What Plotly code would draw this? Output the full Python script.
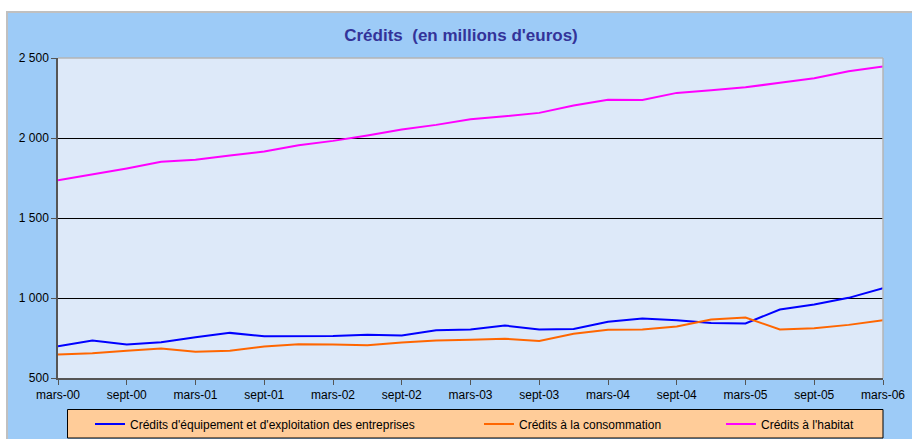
import plotly.graph_objects as go

# ---- data ----
x_labels = [
    "mars-00", "juin-00", "sept-00", "déc-00",
    "mars-01", "juin-01", "sept-01", "déc-01",
    "mars-02", "juin-02", "sept-02", "déc-02",
    "mars-03", "juin-03", "sept-03", "déc-03",
    "mars-04", "juin-04", "sept-04", "déc-04",
    "mars-05", "juin-05", "sept-05", "déc-05",
    "mars-06",
]
equipement = [699, 734, 709, 724, 755, 782, 761, 761, 762, 770, 766, 799, 803,
              828, 803, 807, 851, 872, 861, 843, 841, 928, 959, 1001, 1061]
consommation = [647, 655, 670, 684, 664, 670, 697, 711, 709, 705, 722, 734, 739,
                745, 732, 776, 801, 803, 822, 866, 878, 803, 811, 832, 861]
habitat = [1736, 1772, 1810, 1851, 1864, 1891, 1916, 1955, 1982, 2016, 2053, 2082, 2117,
           2136, 2157, 2203, 2239, 2237, 2282, 2299, 2317, 2345, 2374, 2417, 2447]
series_names = [
    "Crédits d'équipement et d'exploitation des entreprises",
    "Crédits à la consommation",
    "Crédits à l'habitat",
]
series_colors = ["#0000FF", "#FF6600", "#FF00FF"]
y_tickvals = [500, 1000, 1500, 2000, 2500]
y_ticktext = ["500", "1 000", "1 500", "2 000", "2 500"]
x_tickvals = x_labels[::2]

# ---- layout geometry (pixels) ----
W, H = 912, 439
L, R, T, B = 58, 883, 58, 378
PW, PH = R - L, B - T


def fx(px):
    return (px - L) / PW


def fy(py):
    return (B - py) / PH


FONT = "Liberation Sans, Arial, sans-serif"

fig = go.Figure()
legend_x = [90, 479, 721]
for i, (vals, name, col) in enumerate(zip([equipement, consommation, habitat],
                                          series_names, series_colors)):
    fig.add_trace(go.Scatter(
        x=x_labels, y=vals, mode="lines", name=name,
        line=dict(color=col, width=2),
        showlegend=True,
        legend="legend" if i == 0 else f"legend{i+1}",
    ))

legend_common = dict(
    orientation="h", bgcolor="rgba(0,0,0,0)", borderwidth=0,
    yanchor="middle", y=fy(424), xanchor="left",
    font=dict(family=FONT, size=12, color="#000000"),
)

shapes = [
    # white strips outside frame
    dict(type="rect", xref="paper", yref="paper", x0=fx(0), x1=fx(W), y0=fy(11), y1=fy(0),
         fillcolor="white", line=dict(width=0), layer="above"),
    dict(type="rect", xref="paper", yref="paper", x0=fx(0), x1=fx(6), y0=fy(H), y1=fy(0),
         fillcolor="white", line=dict(width=0), layer="above"),
    # gray frame lines
    dict(type="line", xref="paper", yref="paper", x0=fx(6), x1=fx(W), y0=fy(12), y1=fy(12),
         line=dict(color="#c0c0c0", width=2), layer="above"),
    dict(type="line", xref="paper", yref="paper", x0=fx(7), x1=fx(7), y0=fy(H), y1=fy(11),
         line=dict(color="#c0c0c0", width=2), layer="above"),
    # plot area top/right border
    dict(type="line", xref="paper", yref="paper", x0=0, x1=1, y0=1, y1=1,
         line=dict(color="#b4b4b4", width=1.5), layer="above"),
    dict(type="line", xref="paper", yref="paper", x0=1, x1=1, y0=0, y1=1,
         line=dict(color="#b4b4b4", width=1.5), layer="above"),
    # legend box
    dict(type="rect", xref="paper", yref="paper", x0=fx(67.5), x1=fx(883), y0=fy(438), y1=fy(409.5),
         fillcolor="#FFCC99", line=dict(color="#000000", width=1), layer="below"),
]

fig.update_layout(
    width=W, height=H, autosize=False,
    showlegend=True,
    margin=dict(l=L, r=W - R, t=T, b=H - B, pad=0, autoexpand=False),
    paper_bgcolor="#9dcbf7",
    plot_bgcolor="#dde9f9",
    font=dict(family=FONT, size=12, color="#000000"),
    title=dict(text="<b>Crédits\u00a0 (en millions d'euros)</b>", x=461 / W, xref="container",
               xanchor="center", y=1 - 35 / H, yref="container", yanchor="middle",
               font=dict(family=FONT, size=17, color="#333399")),
    xaxis=dict(type="category", range=[0, len(x_labels) - 1], automargin=False,
               tickmode="array", tickvals=x_tickvals, ticktext=x_tickvals,
               showgrid=False, showline=True, linecolor="#555555", linewidth=1.5,
               ticks="outside", ticklen=5, tickcolor="#555555", tickwidth=1,
               tickfont=dict(family=FONT, size=12, color="#000000"), tickangle=0,
               zeroline=False),
    yaxis=dict(range=[500, 2500], tickmode="array", tickvals=y_tickvals, ticktext=y_ticktext,
               automargin=False,
               showgrid=True, gridcolor="#000000", gridwidth=1,
               showline=True, linecolor="#555555", linewidth=1.5,
               ticks="outside", ticklen=5, tickcolor="#555555", tickwidth=1,
               tickfont=dict(family=FONT, size=12, color="#000000"),
               zeroline=False),
    legend=dict(x=fx(legend_x[0]), **legend_common),
    legend2=dict(x=fx(legend_x[1]), **legend_common),
    legend3=dict(x=fx(legend_x[2]), **legend_common),
    shapes=shapes,
)

fig.write_html("out.html",
               config={"displayModeBar": False},
               post_script="document.body.style.margin='0';document.body.style.overflow='hidden';")
